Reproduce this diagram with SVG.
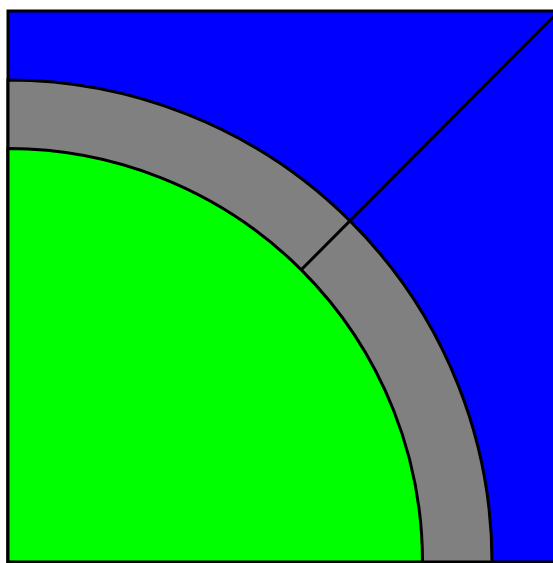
<svg xmlns="http://www.w3.org/2000/svg" width="553" height="563" viewBox="0 0 553 563">
<style>
.s{stroke:#000;stroke-width:3;stroke-linejoin:miter}
</style>
<rect width="553" height="563" fill="#fff"/>
<g id="background">
<rect class="s" x="8" y="11" width="551" height="551" fill="#0000ff"/>
</g>
<g id="annulus">
<path class="s" d="M8,562 L8,80 A484,482 0 0 1 492,562 Z" fill="#808080"/>
</g>
<g id="core">
<path class="s" d="M8,562 L8,148.5 A414.5,413.5 0 0 1 422.5,562 Z" fill="#00ff00"/>
</g>
<g id="connectors">
<line class="s" x1="301" y1="270" x2="559" y2="11" fill="none"/>
</g>
</svg>
